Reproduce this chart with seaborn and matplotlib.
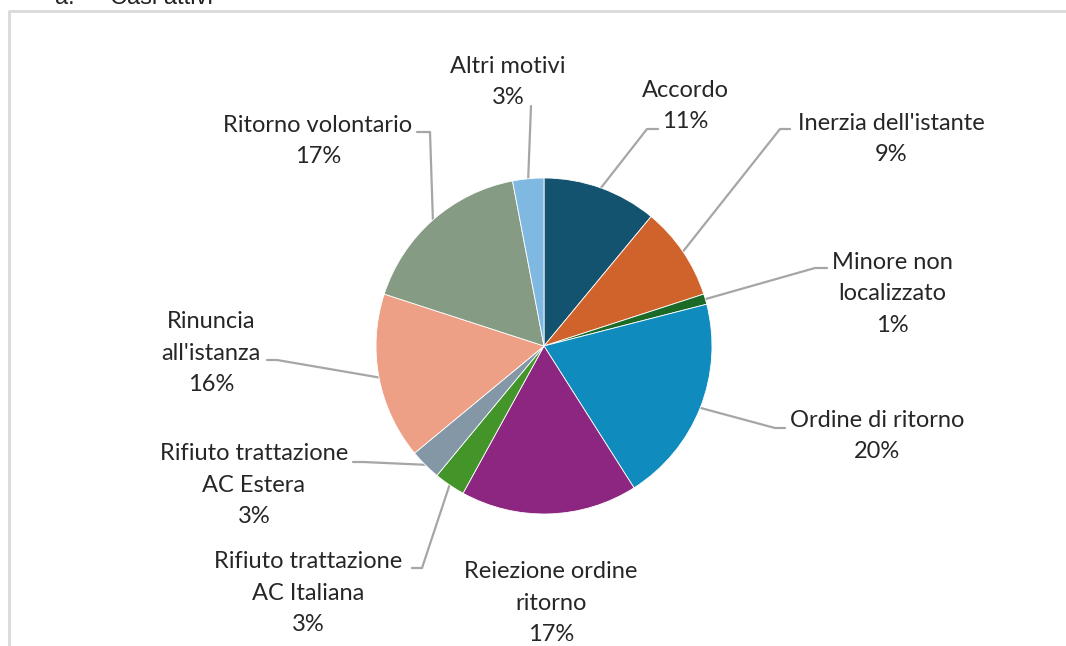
import numpy as np
import matplotlib
matplotlib.use("Agg")
import matplotlib.pyplot as plt
import seaborn as sns

# slice data, clockwise from 12 o'clock
categories = ["Accordo", "Inerzia dell'istante", "Minore non\nlocalizzato",
              "Ordine di ritorno", "Reiezione ordine\nritorno",
              "Rifiuto trattazione\nAC Italiana", "Rifiuto trattazione\nAC Estera",
              "Rinuncia\nall'istanza", "Ritorno volontario", "Altri motivi"]
values = [11, 9, 1, 20, 17, 3, 3, 16, 17, 3]
slice_colors = ["#13536F", "#D0632B", "#1B6A28", "#0F8BBE", "#8C2680",
                "#43952A", "#8497A7", "#EDA086", "#869B84", "#7FB8E0"]

W, H = 1066, 646

sns.set_theme(style="white")
plt.rcParams['font.family'] = ['Lato', 'DejaVu Sans']

fig = plt.figure(figsize=(W / 100, H / 100), dpi=100)
ax = fig.add_axes([0, 0, 1, 1])

cx, cy, r = 544, H - 346, 168
wedges, _ = ax.pie(values, colors=sns.color_palette(slice_colors), startangle=90,
                   counterclock=False, center=(cx, cy), radius=r,
                   wedgeprops=dict(edgecolor="white", linewidth=0.6))
ax.set_xlim(0, W)
ax.set_ylim(0, H)
ax.set_aspect("equal")
ax.axis("off")

# label block centres and leader elbows (image pixel coords, y downwards)
label_pos = [(685, 106), (891, 139), (892, 294), (877, 436), (551, 603),
             (308, 593), (254, 485), (211, 353), (318, 141), (508, 82)]
elbows = [[(658, 129), (647, 129)],
          [(790, 129), (780, 129)],
          [(827, 268), (815, 268)],
          [(785, 428), (775, 428)],
          None,
          [(412, 568), (422, 568)],
          [(353, 462), (363, 462)],
          [(267, 360), (277, 360)],
          [(417, 132), (430, 132)],
          [(531, 106)]]

line_col = "#A6A6A6"
txt_col = "#262626"
for w, cat, v, (lx, ly), elb in zip(wedges, categories, values, label_pos, elbows):
    ax.text(lx, H - ly, f"{cat}\n{v}%", ha="center", va="center",
            fontsize=17, color=txt_col, linespacing=1.62)
    if elb is None:
        continue
    mid = np.deg2rad((w.theta1 + w.theta2) / 2)
    ex, ey = cx + r * np.cos(mid), cy + r * np.sin(mid)
    xs = [p[0] for p in elb] + [ex]
    ys = [H - p[1] for p in elb] + [ey]
    ax.plot(xs, ys, color=line_col, lw=1.6, zorder=0)

# chart frame (only top and left edges are visible in the crop)
ax.plot([9, 9, W + 5], [-5, H - 11, H - 11], color="#D9D9D9", lw=2, clip_on=False)

# heading cut off at the top, as in the source
fig.text(55 / W, 1 - 4 / H, "a.", fontsize=17, family="Liberation Sans",
         color="#222222", va="baseline")
fig.text(110 / W, 1 - 4 / H, "Casi attivi", fontsize=17, family="Liberation Sans",
         color="#222222", va="baseline")

fig.savefig("out.png", dpi=100)
